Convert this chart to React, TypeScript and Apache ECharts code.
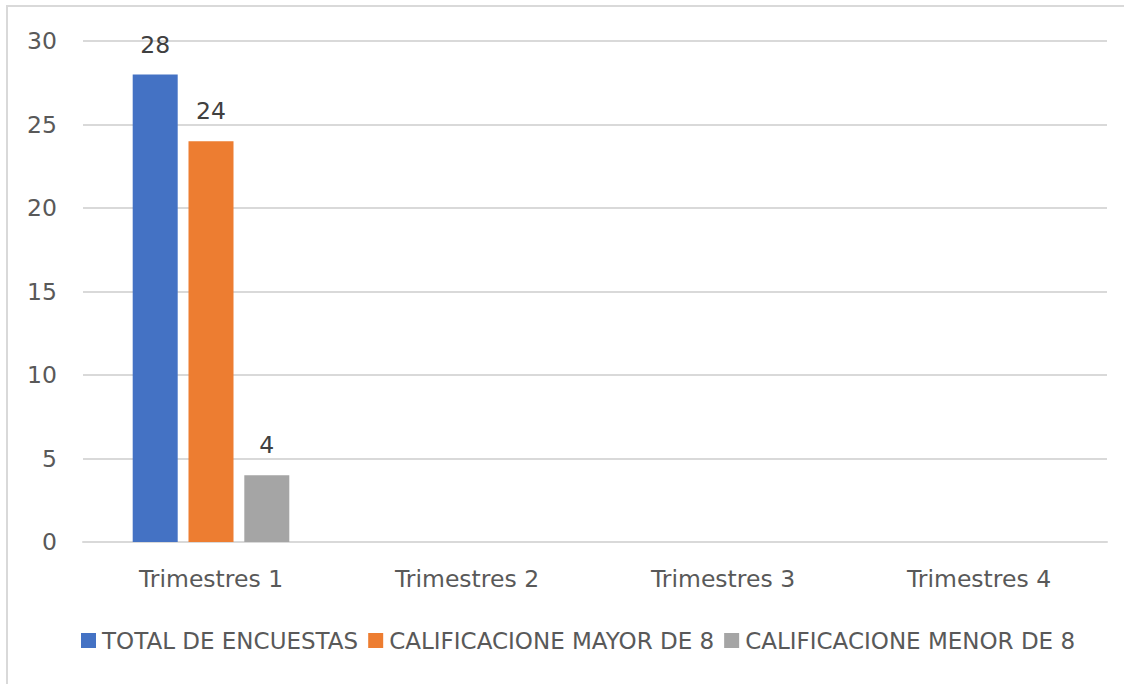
import React, { useEffect, useRef } from "react";
import * as echarts from "echarts";

const categories = ["Trimestres 1", "Trimestres 2", "Trimestres 3", "Trimestres 4"];
const seriesNames = ["TOTAL DE ENCUESTAS", "CALIFICACIONE MAYOR DE 8", "CALIFICACIONE MENOR DE 8"];
const totalEncuestas = [28, null, null, null];
const mayorDe8 = [24, null, null, null];
const menorDe8 = [4, null, null, null];
const colors = ["#4472C4", "#ED7D31", "#A5A5A5"];

const FONT = "DejaVu Sans";

export default function App() {
  const ref = useRef<HTMLDivElement>(null);
  useEffect(() => {
    if (!ref.current) return;
    const chart = echarts.init(ref.current, undefined, { renderer: "svg" });
    const dataSets = [totalEncuestas, mayorDe8, menorDe8];
    chart.setOption({
      animation: false,
      backgroundColor: "#ffffff",
      textStyle: { fontFamily: FONT },
      graphic: [
        {
          type: "rect",
          shape: { x: 7, y: 6, width: 1130, height: 700 },
          style: { fill: "none", stroke: "#d9d9d9", lineWidth: 2 },
          silent: true,
        },
      ],
      grid: { left: 83, right: 17, top: 41, bottom: 142, containLabel: false },
      legend: {
        left: 76,
        top: 624,
        itemWidth: 15,
        itemHeight: 15,
        itemGap: 10,
        icon: "rect",
        textStyle: {
          fontFamily: FONT,
          fontSize: 23,
          lineHeight: 23,
          color: "#595959",
          padding: [0, 0, 0, 1],
        },
        data: seriesNames,
      },
      xAxis: {
        type: "category",
        data: categories,
        axisLine: { show: true, lineStyle: { color: "#d9d9d9", width: 2 } },
        axisTick: { show: false },
        axisLabel: {
          fontFamily: FONT,
          fontSize: 23.5,
          lineHeight: 23.5,
          color: "#595959",
          margin: 25,
        },
      },
      yAxis: {
        type: "value",
        min: 0,
        max: 30,
        interval: 5,
        axisLine: { show: false },
        axisTick: { show: false },
        splitLine: { show: true, lineStyle: { color: "#d9d9d9", width: 2 } },
        axisLabel: {
          fontFamily: FONT,
          fontSize: 23.5,
          color: "#595959",
          margin: 26,
        },
      },
      series: seriesNames.map((name, i) => ({
        name,
        type: "bar",
        data: dataSets[i],
        barWidth: 45,
        barGap: "24%",
        itemStyle: { color: colors[i] },
        label: {
          show: true,
          position: "top",
          distance: 18,
          fontFamily: FONT,
          fontSize: 23.5,
          lineHeight: 23.5,
          color: "#404040",
        },
      })),
    });
    return () => chart.dispose();
  }, []);
  return (
    <div
      ref={ref}
      style={{ position: "absolute", left: 0, top: 0, width: 1124, height: 684 }}
    />
  );
}
